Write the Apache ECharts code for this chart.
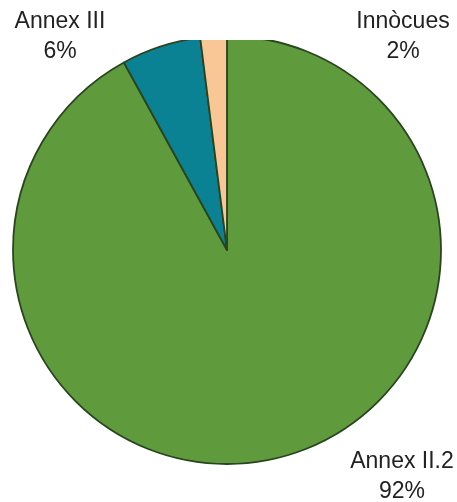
<!DOCTYPE html>
<html>
<head>
<meta charset="utf-8">
<script src="https://cdn.jsdelivr.net/npm/echarts@6/dist/echarts.min.js"></script>
<style>
html,body{margin:0;padding:0;background:#fff;}
#chart{width:457px;height:502px;}
</style>
</head>
<body>
<div id="chart"></div>
<script>
const categories = ['Annex II.2', 'Annex III', 'Innòcues'];
const values = [92, 6, 2];
const colors = ['#5f9a3c', '#0a8294', '#f9c795'];
const labelPos = [[402, 477], [60, 37], [403, 37]];

const chart = echarts.init(document.getElementById('chart'), null, {renderer: 'canvas'});
const total = values.reduce((a, b) => a + b, 0);
const graphics = [
  {type: 'rect', shape: {x: 0, y: 0, width: 457, height: 40}, style: {fill: '#fff'}, z: 10}
];
categories.forEach((c, i) => {
  graphics.push({
    type: 'text', x: labelPos[i][0], y: labelPos[i][1], z: 20,
    style: {
      text: c + '\n' + Math.round(values[i] / total * 100) + '%',
      fontFamily: 'Liberation Sans, Arial, sans-serif', fontSize: 23, lineHeight: 30,
      fill: '#222', align: 'center', verticalAlign: 'middle'
    }
  });
});

chart.setOption({
  animation: false,
  backgroundColor: '#fff',
  series: [{
    type: 'pie',
    center: [227, 250],
    radius: 214,
    startAngle: 90,
    clockwise: true,
    label: {show: false},
    labelLine: {show: false},
    itemStyle: {borderColor: '#2a4420', borderWidth: 1.8},
    data: categories.map((c, i) => ({name: c, value: values[i], itemStyle: {color: colors[i]}}))
  }],
  graphic: graphics
});
</script>
</body>
</html>
